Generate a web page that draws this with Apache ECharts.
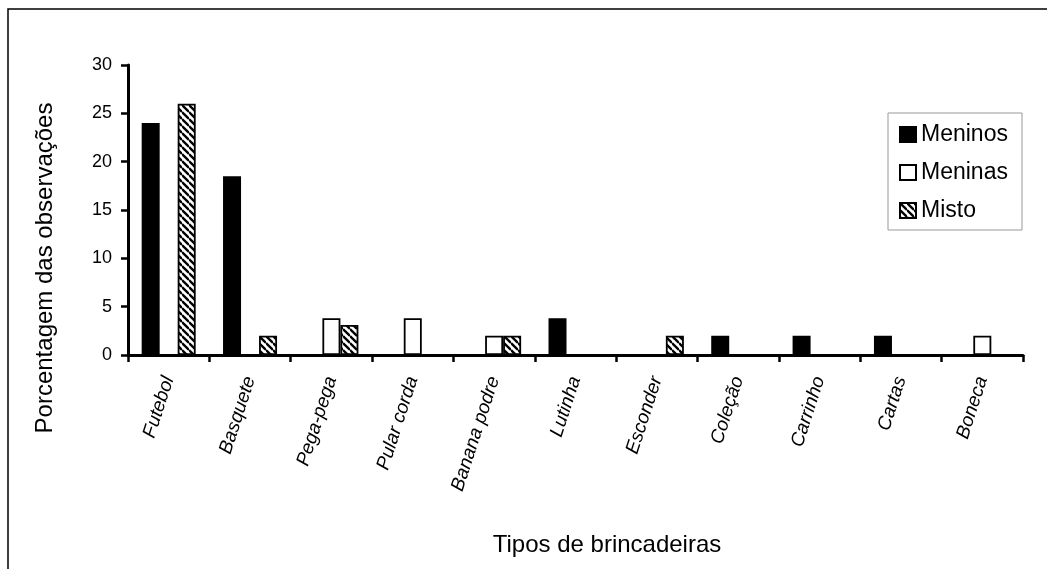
<!DOCTYPE html>
<html><head><meta charset="utf-8">
<script src="https://cdn.jsdelivr.net/npm/echarts@6/dist/echarts.min.js"></script>
<style>html,body{margin:0;padding:0;background:#fff}#c{width:1047px;height:569px}</style>
</head><body><div id="c"></div>
<script>
const categories = ['Futebol','Basquete','Pega-pega','Pular corda','Banana podre','Lutinha','Esconder','Coleção','Carrinho','Cartas','Boneca'];
const meninos = [24, 18.5, 0, 0, 0, 3.8, 0, 2, 2, 2, 0];
const meninas = [0, 0, 3.8, 3.8, 2, 0, 0, 0, 0, 0, 2];
const misto   = [26, 2, 3.1, 0, 2, 0, 2, 0, 0, 0, 0];
const yTicks = [0, 5, 10, 15, 20, 25, 30];

function hatch() {
  const s = 7, c = document.createElement('canvas');
  c.width = s; c.height = s;
  const ctx = c.getContext('2d');
  ctx.fillStyle = '#fff'; ctx.fillRect(0, 0, s, s);
  ctx.strokeStyle = '#000'; ctx.lineWidth = 2.3;
  for (let k = -1; k <= 1; k++) {
    ctx.beginPath(); ctx.moveTo(0, k * s); ctx.lineTo(s, s + k * s); ctx.stroke();
  }
  return {image: c, repeat: 'repeat'};
}
const nz = a => a.map(v => v === 0 ? null : v);
const font = '"Liberation Sans", Arial, sans-serif';
const chart = echarts.init(document.getElementById('c'), null, {renderer: 'canvas'});
const barBase = {type: 'bar', barWidth: 18, barGap: '0%'};
chart.setOption({
  backgroundColor: '#fff',
  animation: false,
  textStyle: {fontFamily: font},
  graphic: [
    {type: 'rect', shape: {x: 8, y: 9, width: 1100, height: 600}, style: {fill: 'none', stroke: '#000', lineWidth: 1.5}, silent: true},
    {type: 'rect', shape: {x: 888, y: 113, width: 134, height: 117}, style: {fill: 'none', stroke: '#999', lineWidth: 1}, silent: true},
    {type: 'text', x: 45, y: 268, rotation: Math.PI / 2,
      style: {text: 'Porcentagem das observações', font: '24px ' + font, fill: '#000', textAlign: 'center', textVerticalAlign: 'middle'}, silent: true},
    {type: 'text', x: 607, y: 545,
      style: {text: 'Tipos de brincadeiras', font: '24px ' + font, fill: '#000', textAlign: 'center', textVerticalAlign: 'middle'}, silent: true}
  ],
  grid: {left: 128, right: 24, top: 65, bottom: 214, containLabel: false},
  legend: {
    orient: 'vertical', left: 888, top: 113,
    padding: [10, 10, 9, 11], itemGap: 15, itemWidth: 16, itemHeight: 15,
    icon: 'rect',
    textStyle: {fontSize: 23, lineHeight: 23, color: '#000', fontFamily: font},
    data: ['Meninos', 'Meninas', 'Misto']
  },
  xAxis: {
    type: 'category', data: categories,
    axisLine: {lineStyle: {color: '#000', width: 3}},
    axisTick: {show: true, length: 7, lineStyle: {color: '#000', width: 2.5}, alignWithLabel: false},
    axisLabel: {rotate: 72, fontSize: 19, fontStyle: 'italic', color: '#000', fontFamily: font, margin: 22, interval: 0}
  },
  yAxis: {
    type: 'value', min: 0, max: 30, interval: 5,
    axisLine: {show: true, lineStyle: {color: '#000', width: 3}},
    axisTick: {show: true, length: 7, lineStyle: {color: '#000', width: 2.5}},
    axisLabel: {fontSize: 18, color: '#000', fontFamily: font, margin: 16,
      formatter: v => yTicks.includes(v) ? String(v) : ''},
    splitLine: {show: false}
  },
  series: [
    Object.assign({}, barBase, {name: 'Meninos', data: nz(meninos), itemStyle: {color: '#000', borderColor: '#000', borderWidth: 1.5}}),
    Object.assign({}, barBase, {name: 'Meninas', data: nz(meninas), itemStyle: {color: '#fff', borderColor: '#000', borderWidth: 1.8}}),
    Object.assign({}, barBase, {name: 'Misto', data: nz(misto), itemStyle: {color: hatch(), borderColor: '#000', borderWidth: 1.8}})
  ]
});
</script></body></html>
